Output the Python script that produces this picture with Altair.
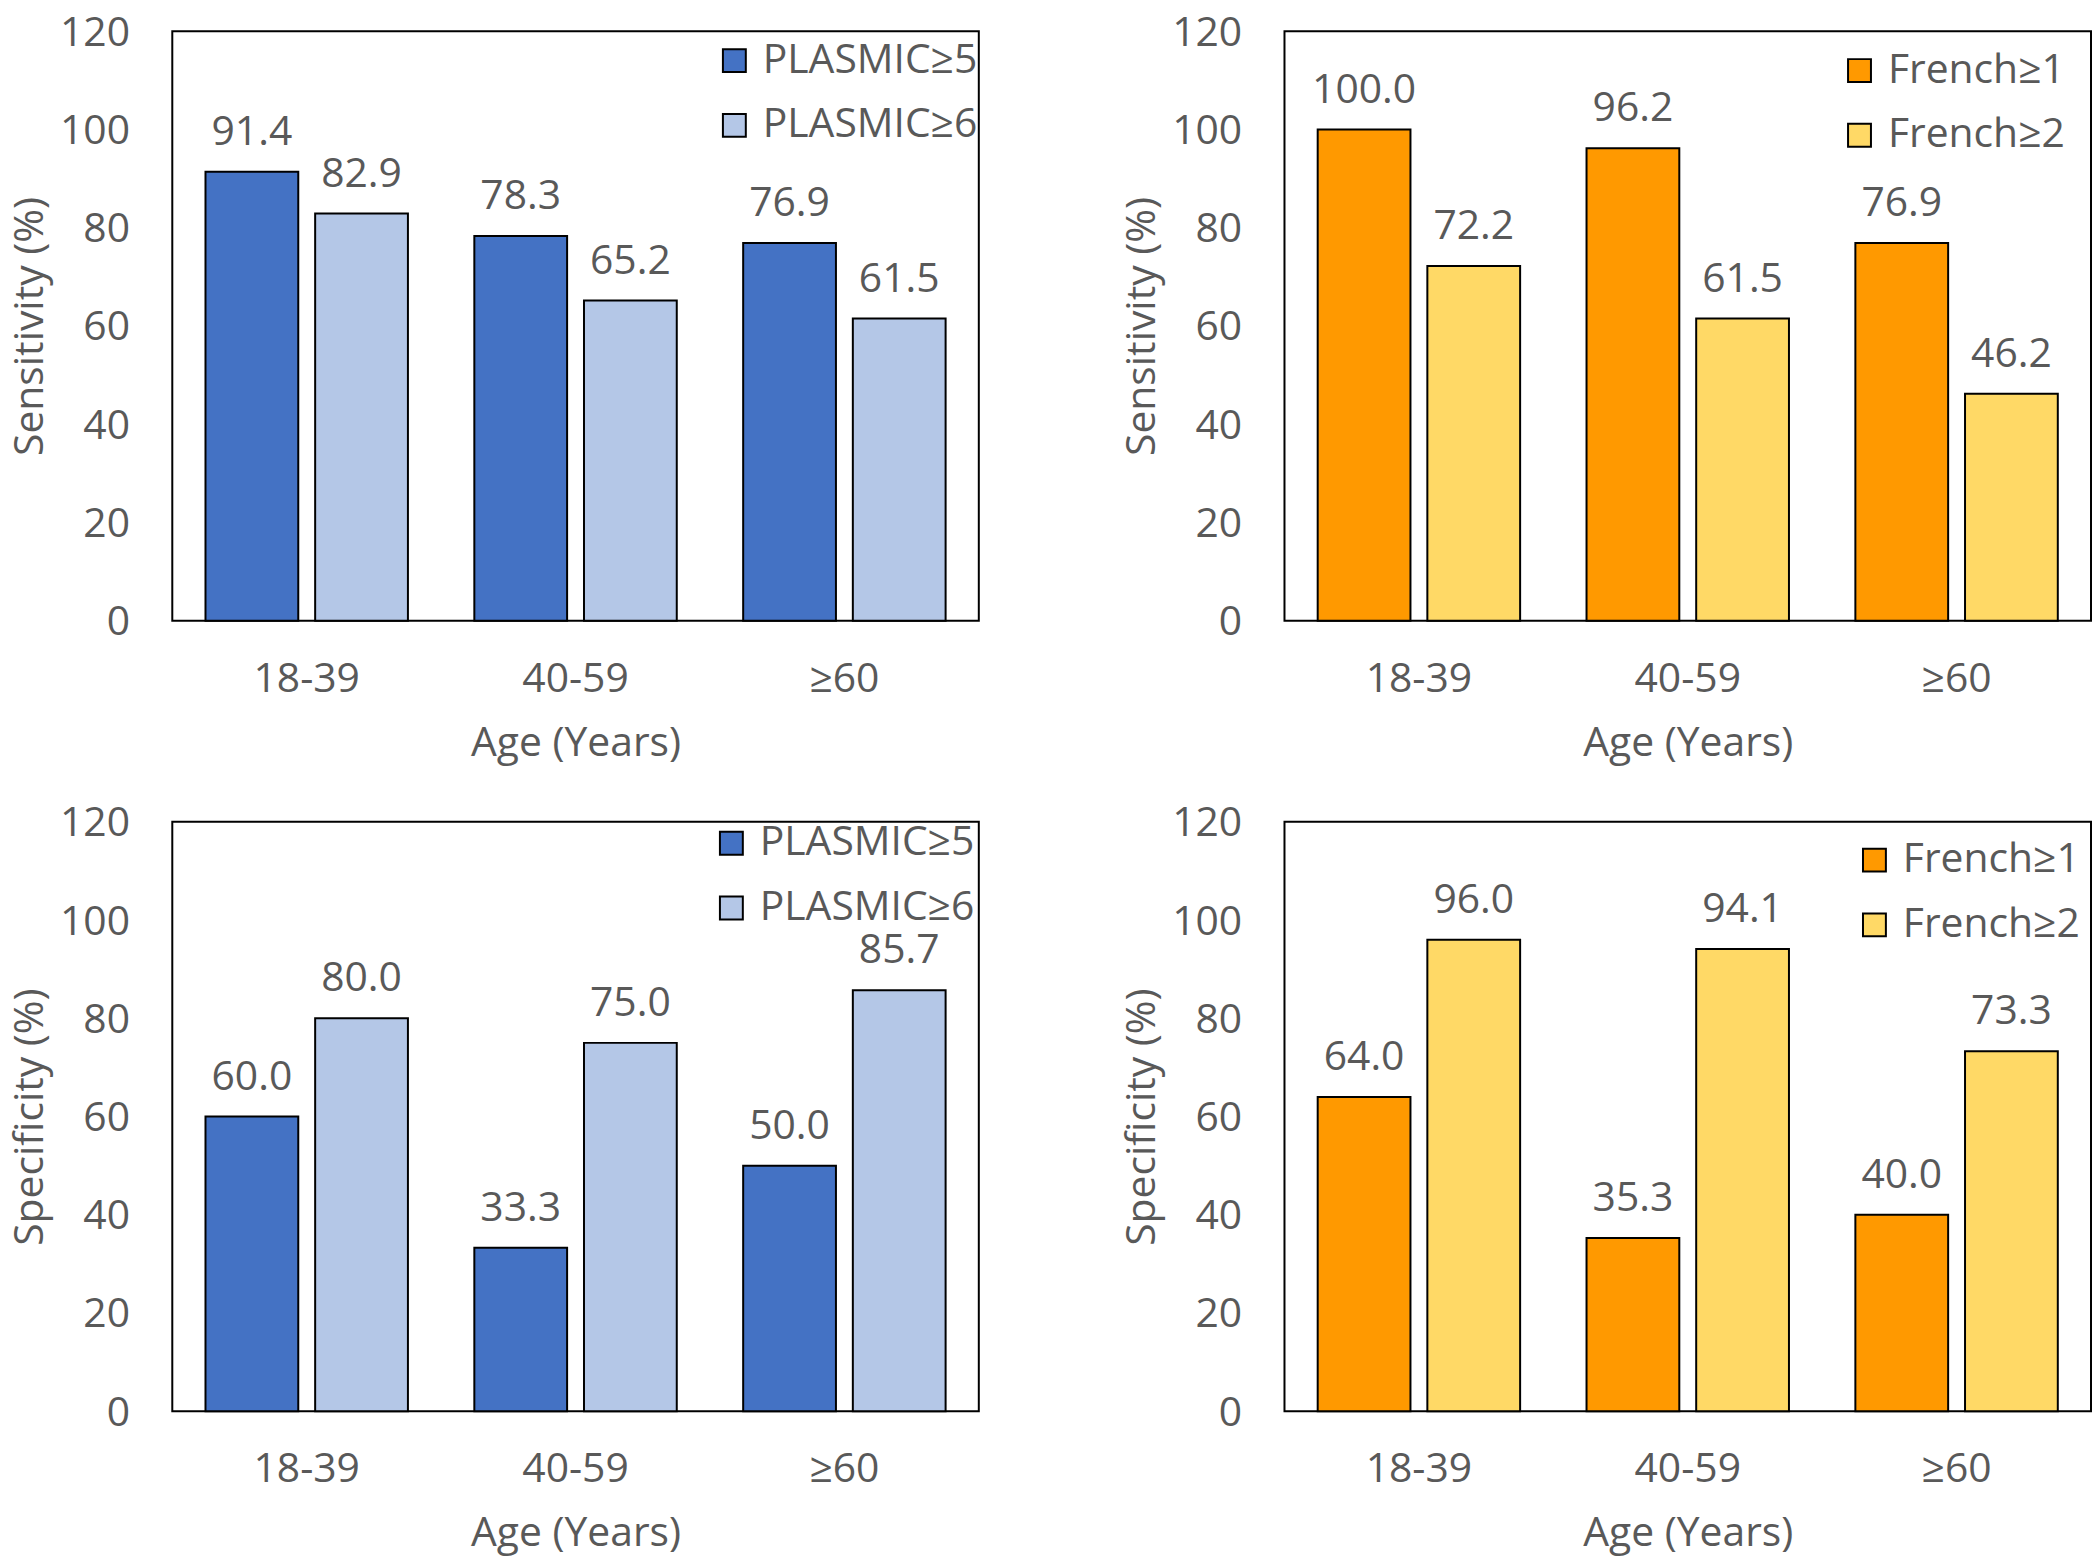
import altair as alt
import pandas as pd

ages = ["18-39", "40-59", "≥60"]
plasmic_series = ["PLASMIC≥5", "PLASMIC≥6"]
french_series = ["French≥1", "French≥2"]

sens_plasmic5 = [91.4, 78.3, 76.9]
sens_plasmic6 = [82.9, 65.2, 61.5]
sens_french1 = [100.0, 96.2, 76.9]
sens_french2 = [72.2, 61.5, 46.2]
spec_plasmic5 = [60.0, 33.3, 50.0]
spec_plasmic6 = [80.0, 75.0, 85.7]
spec_french1 = [64.0, 35.3, 40.0]
spec_french2 = [96.0, 94.1, 73.3]

plasmic_colors = ["#4472C4", "#B4C7E7"]
french_colors = ["#FF9900", "#FFD966"]

y_ticks = [0, 20, 40, 60, 80, 100, 120]

FONT = "Open Sans"
FS = 41
GRAY = "#595959"


def panel(series, va, vb, colors, ytitle, lx, ly):
    rows = []
    for i, a in enumerate(ages):
        rows.append({"Age": a, "Series": series[0], "Value": va[i]})
        rows.append({"Age": a, "Series": series[1], "Value": vb[i]})
    df = pd.DataFrame(rows)
    x = alt.X("Age:N", sort=ages, title="Age (Years)",
              scale=alt.Scale(paddingInner=0.247, paddingOuter=0.1235),
              axis=alt.Axis(labelAngle=0, labelPadding=39, titlePadding=24))
    xo = alt.XOffset("Series:N", sort=series,
                     scale=alt.Scale(paddingInner=0.154, paddingOuter=0))
    y = alt.Y("Value:Q", title=ytitle,
              scale=alt.Scale(domain=[0, 120], nice=False),
              axis=alt.Axis(values=y_ticks, labelPadding=43, titlePadding=8,
                            labelBaseline="alphabetic", labelOffset=14))
    base = alt.Chart(df)
    bars = base.mark_bar(stroke="black", strokeWidth=2).encode(
        x=x, xOffset=xo, y=y,
        color=alt.Color("Series:N",
                        scale=alt.Scale(domain=series, range=colors),
                        legend=alt.Legend(title=None, orient="none",
                                          legendX=lx, legendY=ly,
                                          symbolType="square", symbolSize=529,
                                          symbolStrokeColor="black",
                                          symbolStrokeWidth=2,
                                          symbolOpacity=1,
                                          labelFont=FONT, labelFontSize=FS,
                                          labelColor=GRAY, labelLimit=400,
                                          labelOffset=8, rowPadding=23,
                                          padding=0)),
    )
    labels = base.mark_text(baseline="alphabetic", dy=-27, font=FONT,
                            fontSize=FS, color=GRAY).encode(
        x=x, xOffset=xo, y=y,
        text=alt.Text("Value:Q", format=".1f"),
    )
    return alt.layer(bars, labels).properties(width=810, height=592)


tl = panel(plasmic_series, sens_plasmic5, sens_plasmic6, plasmic_colors,
           "Sensitivity (%)", 544, 9)
tr = panel(french_series, sens_french1, sens_french2, french_colors,
           "Sensitivity (%)", 557, 19)
bl = panel(plasmic_series, spec_plasmic5, spec_plasmic6, plasmic_colors,
           "Specificity (%)", 541, 1)
br = panel(french_series, spec_french1, spec_french2, french_colors,
           "Specificity (%)", 572, 18)


def res(c):
    return c.resolve_scale(
        color="independent", xOffset="independent", x="independent", y="independent"
    ).resolve_legend(color="independent")


top = res(alt.hconcat(tl, tr, spacing=141))
bottom = res(alt.hconcat(bl, br, spacing=141))

chart = res(alt.vconcat(top, bottom, spacing=38)).properties(
    padding={"left": 0, "top": 0, "right": 0, "bottom": 0},
    background="white",
).configure_view(stroke="black", strokeWidth=2).configure_axis(
    labelFont=FONT, labelFontSize=FS, labelColor=GRAY,
    titleFont=FONT, titleFontSize=FS, titleColor=GRAY, titleFontWeight="normal",
    grid=False, domain=False, ticks=False, tickSize=0,
)

chart.save("out.html", embed_options={"renderer": "svg", "actions": False})
